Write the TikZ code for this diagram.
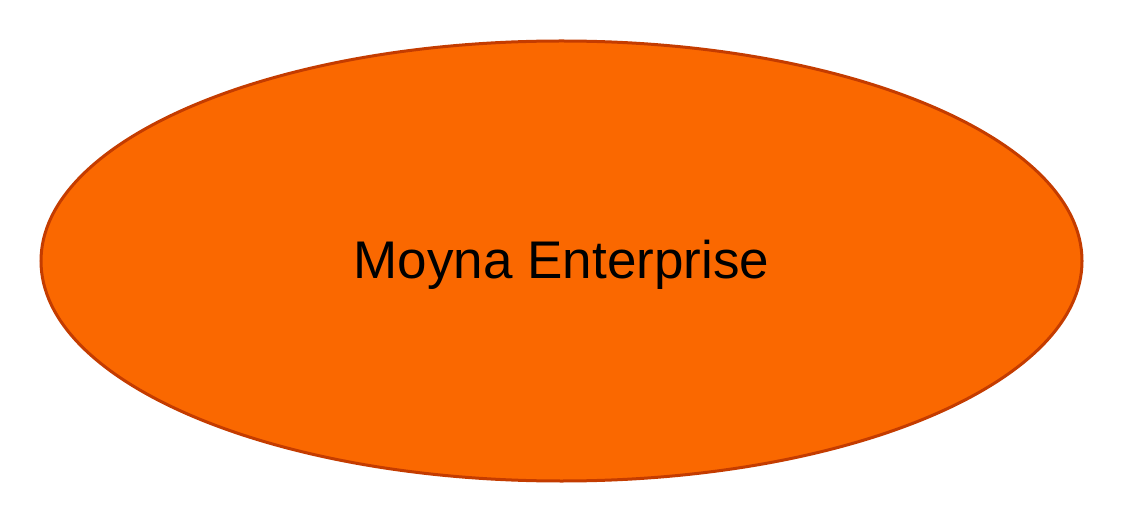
\documentclass[tikz,border=0pt]{standalone}
\usepackage{fontspec}
\setmainfont{Liberation Sans}
\usepackage{tikz}
\usetikzlibrary{shapes.geometric}
\definecolor{entfill}{HTML}{FA6800}
\definecolor{entdraw}{HTML}{C43C00}

\begin{document}
\begin{tikzpicture}[x=1pt,y=1pt,
entity/.style={ellipse, draw=entdraw, fill=entfill, line width=3pt, minimum width=1041pt, minimum height=440pt, inner sep=0pt},
]
\useasboundingbox (0,0) rectangle (1124,528);
%entity
\node (moyna) [entity] at (561.5,267) {};
\node (label) [font=\fontsize{53}{62}\selectfont] at ([yshift=-4pt]moyna.center) {Moyna Enterprise};
\end{tikzpicture}
\end{document}
